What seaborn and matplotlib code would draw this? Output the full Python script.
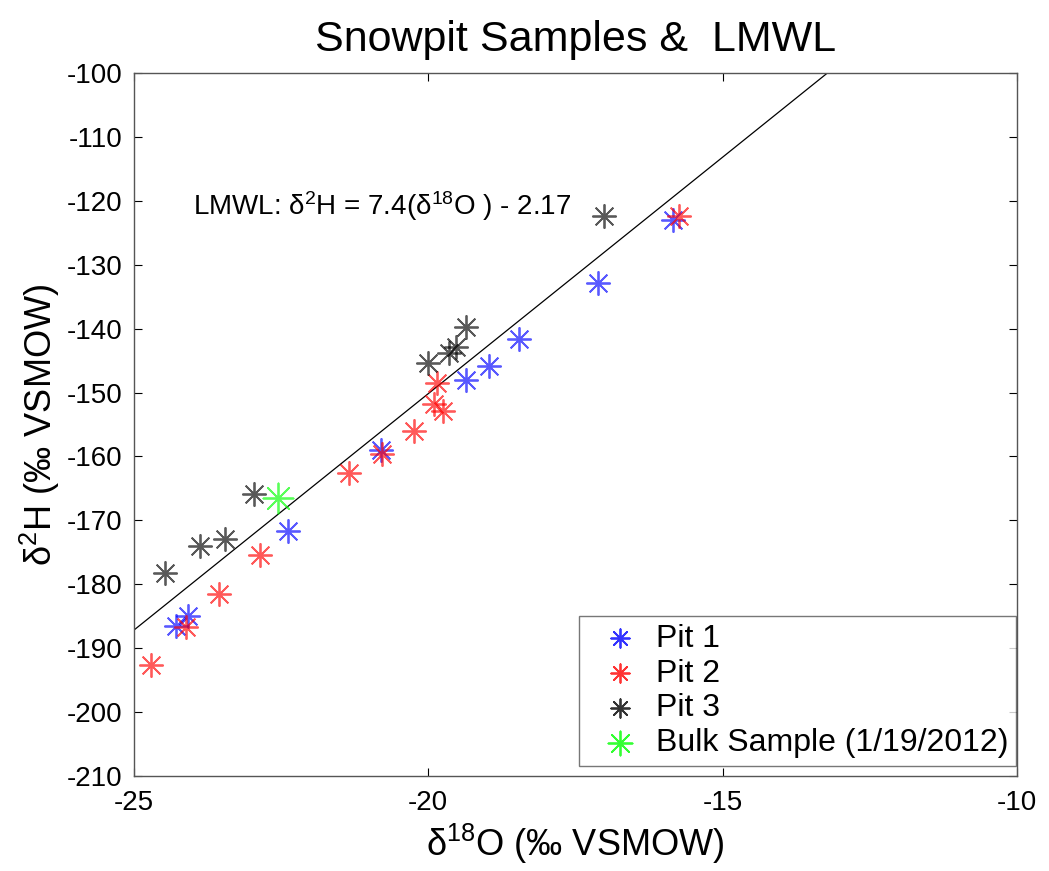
import numpy as np
import pandas as pd
import matplotlib
matplotlib.use("Agg")
import matplotlib.pyplot as plt
import seaborn as sns

# -----------------------------
# Data
# -----------------------------
pit1_d18o = [-15.84, -17.12, -18.46, -18.97, -19.36, -20.81, -22.38, -24.08, -24.29]
pit1_d2h = [-123.0, -132.9, -141.6, -145.9, -148.0, -159.0, -171.7, -185.0, -186.5]

pit2_d18o = [-15.74, -19.85, -19.90, -19.75, -20.24, -20.79, -21.35, -22.86, -23.56, -24.12, -24.71]
pit2_d2h = [-122.4, -148.5, -151.8, -152.9, -156.0, -159.6, -162.6, -175.4, -181.5, -186.7, -192.6]

pit3_d18o = [-17.02, -19.36, -19.53, -19.65, -20.01, -22.96, -23.45, -23.88, -24.47]
pit3_d2h = [-122.4, -139.7, -142.9, -143.8, -145.4, -165.9, -172.9, -174.0, -178.2]

bulk_d18o = [-22.55]
bulk_d2h = [-166.5]

lmwl_slope = 7.4
lmwl_intercept = -2.17

# -----------------------------
# Theme
# -----------------------------
sns.set_theme(style="ticks")
plt.rcParams["font.family"] = ["Liberation Sans", "DejaVu Sans"]
plt.rcParams["mathtext.fontset"] = "custom"
plt.rcParams["mathtext.rm"] = "Liberation Sans"
plt.rcParams["mathtext.it"] = "Liberation Sans:italic"
plt.rcParams["axes.unicode_minus"] = False
plt.rcParams["text.color"] = "black"
plt.rcParams["axes.labelcolor"] = "black"

groups = [
    ("Pit 1", pit1_d18o, pit1_d2h, "#0000ff", 280),
    ("Pit 2", pit2_d18o, pit2_d2h, "#ff0000", 280),
    ("Pit 3", pit3_d18o, pit3_d2h, "#000000", 280),
    ("Bulk Sample (1/19/2012)", bulk_d18o, bulk_d2h, "#00ff00", 470),
]

fig = plt.figure(figsize=(10.49, 8.71), dpi=100)
ax = fig.add_axes([0.1277, 0.1091, 0.8418, 0.8071])

asterisk = (8, 2, 0)
for name, xs, ys, col, size in groups:
    df = pd.DataFrame({"d18O": xs, "d2H": ys})
    sns.scatterplot(data=df, x="d18O", y="d2H", ax=ax, marker=asterisk,
                    color=col, edgecolor=col, s=size, linewidth=1.3,
                    alpha=0.65, label=name, zorder=3)

# LMWL line
line_x = np.array([-25.0, -10.0])
ax.plot(line_x, lmwl_slope * line_x + lmwl_intercept, color="black",
        linewidth=0.9, zorder=2)

ax.text(-24.0, -120.8, r"LMWL: δ$^{2}$H = 7.4(δ$^{18}$O ) - 2.17",
        fontsize=20, va="center", ha="left")

ax.set_xlim(-25, -10)
ax.set_ylim(-210, -100)
ax.set_xticks([-25, -20, -15, -10])
ax.set_yticks(np.arange(-210, -99, 10))
ax.tick_params(direction="in", top=True, right=True, labelsize=20,
               length=6, width=0.8, colors="black")
ax.tick_params(axis="x", pad=10)
ax.tick_params(axis="y", pad=8)
for sp in ax.spines.values():
    sp.set_visible(True)
    sp.set_color("#555555")
    sp.set_linewidth(1.0)

ax.set_xlabel(r"δ$^{18}$O (‰ VSMOW)", fontsize=26, labelpad=4)
ax.set_ylabel(r"δ$^{2}$H (‰ VSMOW)", fontsize=26, labelpad=4)
ax.set_title("Snowpit Samples &  LMWL", fontsize=31, pad=16)

leg = ax.legend(loc="lower right", bbox_to_anchor=(0.999, 0.014),
                fontsize=23, frameon=True, fancybox=False,
                borderaxespad=0.0, borderpad=0.25, handletextpad=0.05,
                handlelength=2.1, labelspacing=0.15, markerscale=0.8)
leg.get_frame().set_edgecolor("#555555")
leg.get_frame().set_linewidth(1.0)
for h in leg.legend_handles:
    h.set_alpha(0.8)

fig.savefig("out.png", dpi=100)
